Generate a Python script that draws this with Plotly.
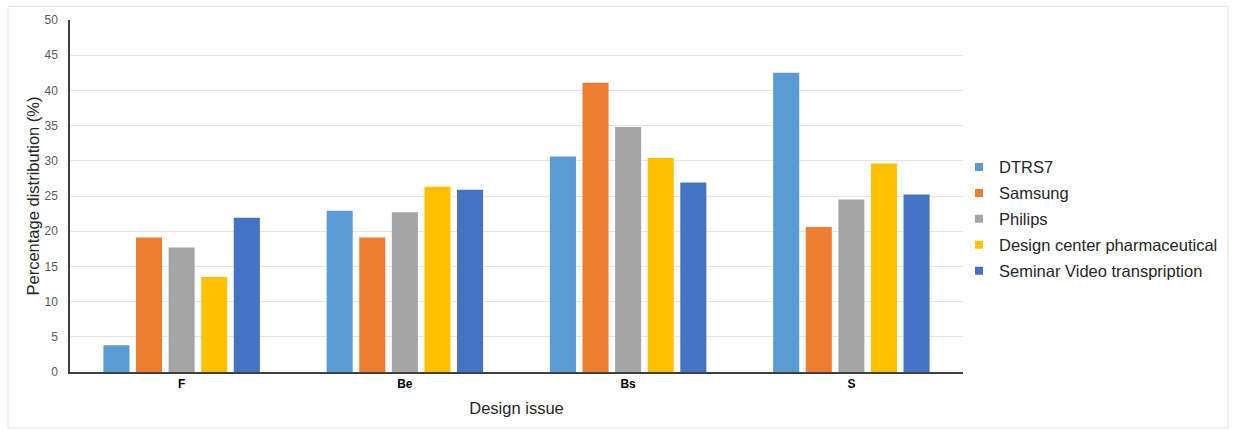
import plotly.graph_objects as go

categories = ["F", "Be", "Bs", "S"]
series_names = ["DTRS7", "Samsung", "Philips", "Design center pharmaceutical", "Seminar Video transpription"]
dtrs7 = [3.8, 22.9, 30.6, 42.5]
samsung = [19.1, 19.1, 41.1, 20.6]
philips = [17.7, 22.7, 34.8, 24.5]
design_center = [13.5, 26.3, 30.4, 29.6]
seminar = [21.9, 25.9, 26.9, 25.2]
y_ticks = [0, 5, 10, 15, 20, 25, 30, 35, 40, 45, 50]

values = [dtrs7, samsung, philips, design_center, seminar]
colors = ["#5B9BD5", "#ED7D31", "#A5A5A5", "#FFC000", "#4472C4"]

fig = go.Figure()
for name, vals, col in zip(series_names, values, colors):
    fig.add_trace(go.Bar(x=categories, y=vals, name=name, marker_color=col,
                         marker_line_width=0, showlegend=False))
# legend entries with small square keys
for i, (name, col) in enumerate(zip(series_names, colors)):
    fig.add_trace(go.Scatter(x=[None], y=[None], mode="markers", name=name,
                             marker=dict(symbol="square", size=8, color=col),
                             legendgroup=f"g{i}", showlegend=True))

W, H = 1235, 431
L, R, T, B = 70, 272, 19.5, 59
pw = W - L - R
ph = H - T - B

def px_x(p):
    return (p - L) / pw

def px_y(p):
    return (H - B - p) / ph

fig.update_layout(
    width=W, height=H,
    margin=dict(l=L, r=R, t=T, b=B, pad=0),
    paper_bgcolor="white", plot_bgcolor="white",
    barmode="group", bargap=0.27, bargroupgap=0.2,
    font=dict(family="Liberation Sans, Arial, sans-serif", color="#404040"),
    showlegend=True,
    legend=dict(x=px_x(959), y=px_y(219), xanchor="left", yanchor="middle",
                font=dict(size=16.5, color="#262626"), itemwidth=30,
                tracegroupgap=1.5, bgcolor="rgba(0,0,0,0)"),
    xaxis=dict(
        showline=True, linecolor="#404040", linewidth=1.5,
        tickfont=dict(size=12, color="#000000", family="Liberation Sans, Arial, sans-serif", weight="bold"),
        ticks="", ticklen=0,
        title=dict(text="Design issue", font=dict(size=16.5, color="#262626"), standoff=12),
    ),
    yaxis=dict(
        range=[0, 50], tickvals=y_ticks, showgrid=True, gridcolor="#E4E4E4",
        showline=True, linecolor="#404040", linewidth=1.5,
        tickfont=dict(size=12, color="#595959"), ticks="", ticklabelstandoff=8,
        title=dict(text="Percentage distribution (%)", font=dict(size=16.5, color="#262626"), standoff=1),
        zeroline=False,
    ),
    shapes=[dict(type="rect", xref="paper", yref="paper",
                 x0=px_x(8), x1=px_x(1228), y0=px_y(428), y1=px_y(6),
                 line=dict(color="#E2E2E2", width=1), layer="below")],
)

fig.write_html("out.html")
